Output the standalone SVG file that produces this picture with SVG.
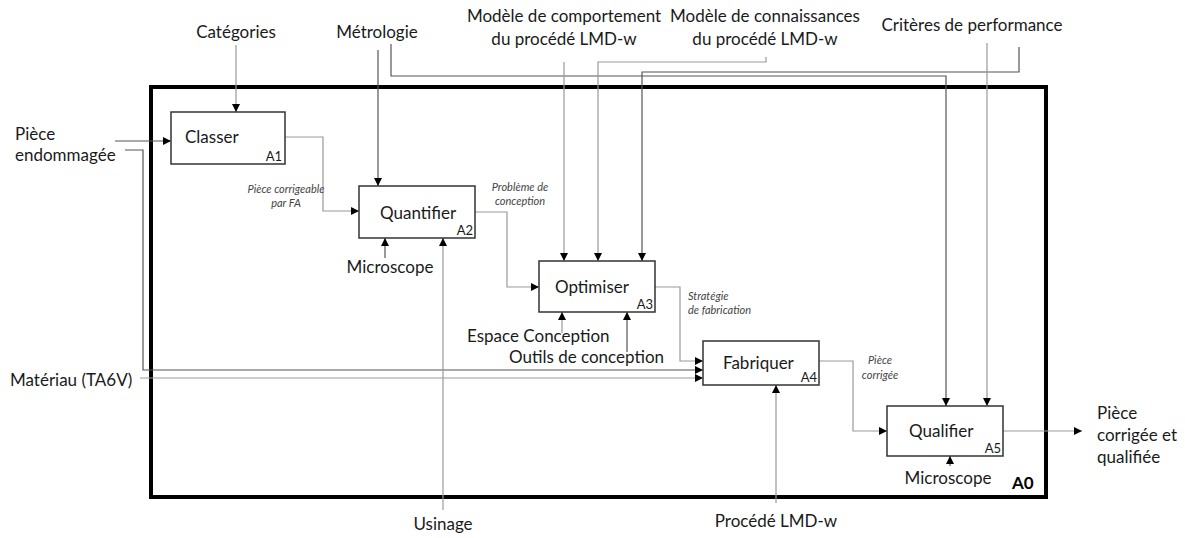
<svg xmlns="http://www.w3.org/2000/svg" width="1185" height="538" viewBox="0 0 1185 538">
<defs>
<marker id="ah" markerUnits="userSpaceOnUse" markerWidth="8" markerHeight="8" refX="8" refY="4" orient="auto">
<path d="M0,0 L8,4 L0,8 z" fill="#000"/>
</marker>
<style>
text{font-family:Lato,"Open Sans","Liberation Sans",sans-serif;fill:#1a1a1a}
.lbl{font-size:17px}
.box{fill:#fff;stroke:#333;stroke-width:1.5}
.bt{font-size:17px}
.code{font-size:13px;text-anchor:end}
.it{font-size:11px;font-style:italic;fill:#444}
.c{fill:none;stroke-width:1.2;marker-end:url(#ah)}
.d{stroke:#555}
.g{stroke:#999}
.m{text-anchor:middle}
</style>
</defs>
<rect id="frame" x="151" y="87" width="895" height="410" fill="none" stroke="#000" stroke-width="4"/>
<text x="1012" y="489" style="font-size:17px;font-weight:bold;fill:#000">A0</text>
<g id="connectors">
<path class="c g" d="M236 45 V112"/>
<path class="c d" d="M378 50 V186"/>
<path class="c d" d="M391 44 V76 H946 V406"/>
<path class="c g" d="M564 62 V261"/>
<path class="c g" d="M766 57 V62 H598 V261"/>
<path class="c d" d="M1019 47 V72 H642 V261"/>
<path class="c g" d="M987 43 V406"/>
<path class="c d" d="M115 141 H171"/>
<path class="c d" d="M125 150 H143 V370 H703"/>
<path class="c g" d="M140 378 H703"/>
<path class="c g" d="M285 137 H323 V211 H359"/>
<path class="c g" d="M475 212 H507 V287 H539"/>
<path class="c g" d="M655 287 H680 V361 H703"/>
<path class="c g" d="M819 361 H853 V431 H887"/>
<path class="c g" d="M1003 431 H1082"/>
<path class="c d" d="M385 258 V238"/>
<path class="c g" d="M443 510 V238"/>
<path class="c g" d="M562 333 V312"/>
<path class="c d" d="M627 352 V312"/>
<path class="c g" d="M776 503 V385"/>
<path class="c d" d="M950 466 V456"/>
</g>
<g id="A1">
<rect class="box" x="171" y="112" width="114" height="52"/>
<text class="bt" x="185" y="143">Classer</text>
<text class="code" x="282" y="161">A1</text>
</g>
<g id="A2">
<rect class="box" x="359" y="186" width="116" height="52"/>
<text class="bt" x="380" y="219">Quantifier</text>
<text class="code" x="473" y="235">A2</text>
</g>
<g id="A3">
<rect class="box" x="539" y="261" width="116" height="51"/>
<text class="bt" x="555" y="293">Optimiser</text>
<text class="code" x="653" y="309">A3</text>
</g>
<g id="A4">
<rect class="box" x="703" y="341" width="116" height="44"/>
<text class="bt" x="723" y="369">Fabriquer</text>
<text class="code" x="817" y="382">A4</text>
</g>
<g id="A5">
<rect class="box" x="887" y="406" width="116" height="50"/>
<text class="bt" x="909" y="437">Qualifier</text>
<text class="code" x="1001" y="453">A5</text>
</g>
<g id="labels">
<text class="lbl m" x="236" y="38">Catégories</text>
<text class="lbl m" x="377" y="38">Métrologie</text>
<text class="lbl m" x="564" y="22">Modèle de comportement</text>
<text class="lbl m" x="564" y="45">du procédé LMD-w</text>
<text class="lbl m" x="765" y="22">Modèle de connaissances</text>
<text class="lbl m" x="765" y="45">du procédé LMD-w</text>
<text class="lbl m" x="972" y="31">Critères de performance</text>
<text class="lbl" x="15" y="140">Pièce</text>
<text class="lbl" x="15" y="161">endommagée</text>
<text class="lbl" x="10" y="386">Matériau (TA6V)</text>
<text class="it m" x="286" y="193">Pièce corrigeable</text>
<text class="it m" x="286" y="207">par FA</text>
<text class="it m" x="520" y="191">Problème de</text>
<text class="it m" x="520" y="205">conception</text>
<text class="it" x="688" y="300">Stratégie</text>
<text class="it" x="688" y="314">de fabrication</text>
<text class="it m" x="880" y="364">Pièce</text>
<text class="it m" x="880" y="379">corrigée</text>
<text class="lbl m" x="390" y="273">Microscope</text>
<text class="lbl m" x="443" y="530">Usinage</text>
<text class="lbl" x="467" y="342">Espace Conception</text>
<text class="lbl" x="509" y="363">Outils de conception</text>
<text class="lbl m" x="776" y="527">Procédé LMD-w</text>
<text class="lbl m" x="948" y="484">Microscope</text>
<text class="lbl" x="1097" y="419">Pièce</text>
<text class="lbl" x="1097" y="441">corrigée et</text>
<text class="lbl" x="1097" y="463">qualifiée</text>
</g>
</svg>
